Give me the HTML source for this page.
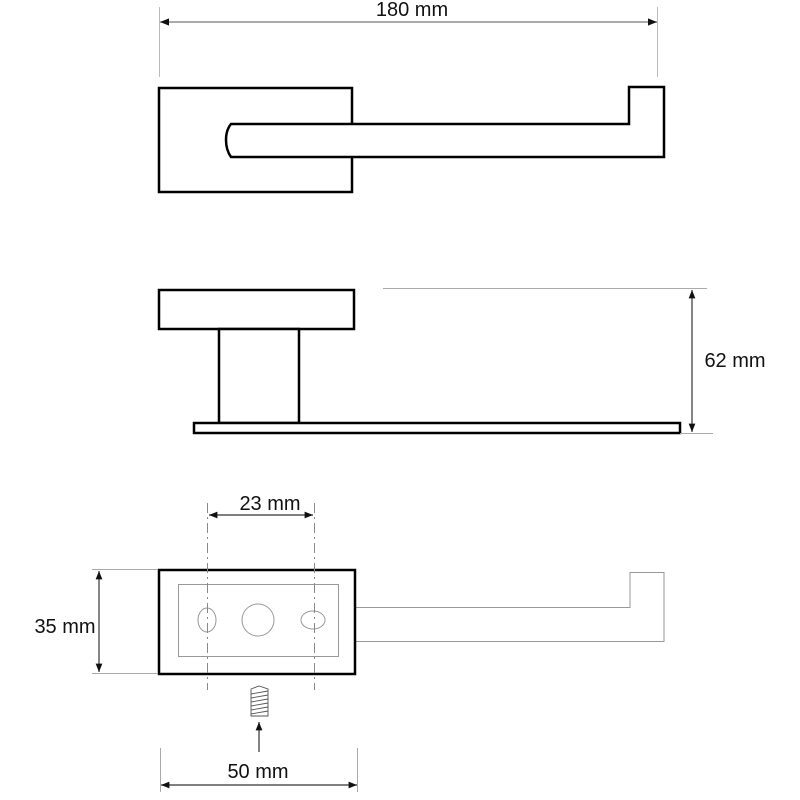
<!DOCTYPE html>
<html><head><meta charset="utf-8"><style>
html,body{margin:0;padding:0;background:#fff;width:800px;height:800px;overflow:hidden}
text{font-family:"Liberation Sans",sans-serif;fill:#111}
</style></head><body>
<svg width="800" height="800" viewBox="0 0 800 800" xmlns="http://www.w3.org/2000/svg">
<defs>
<marker id="a" viewBox="0 0 10 10" refX="10" refY="5" markerWidth="7" markerHeight="7" orient="auto-start-reverse"><path d="M0,1 L10,5 L0,9 z" fill="#111"/></marker>
</defs>
<g stroke="#bbb" stroke-width="1"><line x1="159.5" y1="7" x2="159.5" y2="77"/><line x1="657.5" y1="7" x2="657.5" y2="77"/></g>
<line x1="160" y1="22" x2="657" y2="22" stroke="#777" stroke-width="1.3" marker-start="url(#a)" marker-end="url(#a)"/>
<text x="412" y="16" font-size="20" text-anchor="middle">180 mm</text>
<g fill="none" stroke="#000" stroke-width="2.5">
<rect x="159" y="88" width="193" height="104"/>
<path d="M352,124 H629 V87 H664 V157 H231 Q226,150 226,140 Q226,130 231,124 H352" fill="#fff"/>
</g>
<g fill="#fff" stroke="#000" stroke-width="2.5">
<rect x="159" y="290" width="195" height="39"/>
<rect x="219" y="329" width="80" height="94"/>
<rect x="194" y="423" width="486" height="10"/>
</g>
<g stroke="#aaa" stroke-width="1"><line x1="383" y1="288.5" x2="707" y2="288.5"/><line x1="680" y1="433.5" x2="713" y2="433.5"/></g>
<line x1="692" y1="290" x2="692" y2="432" stroke="#333" stroke-width="1.2" marker-start="url(#a)" marker-end="url(#a)"/>
<text x="735" y="367" font-size="20" text-anchor="middle">62 mm</text>
<g fill="none" stroke="#999" stroke-width="1">
<path d="M355,607.5 H630 V572.5 H664 V641.5 H355"/>
<rect x="178.5" y="584.5" width="160" height="72"/>
<ellipse cx="207" cy="620" rx="9" ry="12"/>
<circle cx="258" cy="620" r="16"/>
<ellipse cx="313" cy="620" rx="12" ry="9"/>
</g>
<rect x="159" y="570" width="196" height="104" fill="none" stroke="#000" stroke-width="2.5"/>
<g stroke="#888" stroke-width="1" stroke-dasharray="10,4,2,4"><line x1="207.5" y1="503" x2="207.5" y2="690"/><line x1="314.5" y1="503" x2="314.5" y2="690"/></g>
<line x1="209" y1="515" x2="313" y2="515" stroke="#333" stroke-width="1.2" marker-start="url(#a)" marker-end="url(#a)"/>
<text x="270" y="510" font-size="20" text-anchor="middle">23 mm</text>
<g stroke="#aaa" stroke-width="1"><line x1="92" y1="569.5" x2="158" y2="569.5"/><line x1="92" y1="673.5" x2="158" y2="673.5"/></g>
<line x1="99" y1="571" x2="99" y2="672" stroke="#333" stroke-width="1.2" marker-start="url(#a)" marker-end="url(#a)"/>
<text x="65" y="633" font-size="20" text-anchor="middle">35 mm</text>
<g fill="#fff" stroke="#555" stroke-width="0.9">
<path d="M251,689 L259,686 L268,689 V716 H251 Z"/>
<path d="M251,694 L268,691 M251,698 L268,695 M251,702 L268,699 M251,706 L268,703 M251,710 L268,707 M251,714 L268,711" fill="none"/>
</g>
<line x1="259" y1="752" x2="259" y2="722" stroke="#333" stroke-width="1.2" marker-end="url(#a)"/>
<g stroke="#aaa" stroke-width="1"><line x1="160.5" y1="748" x2="160.5" y2="792"/><line x1="357.5" y1="748" x2="357.5" y2="792"/></g>
<line x1="161" y1="785" x2="357" y2="785" stroke="#333" stroke-width="1.2" marker-start="url(#a)" marker-end="url(#a)"/>
<text x="258" y="778" font-size="20" text-anchor="middle">50 mm</text>
</svg>
</body></html>
